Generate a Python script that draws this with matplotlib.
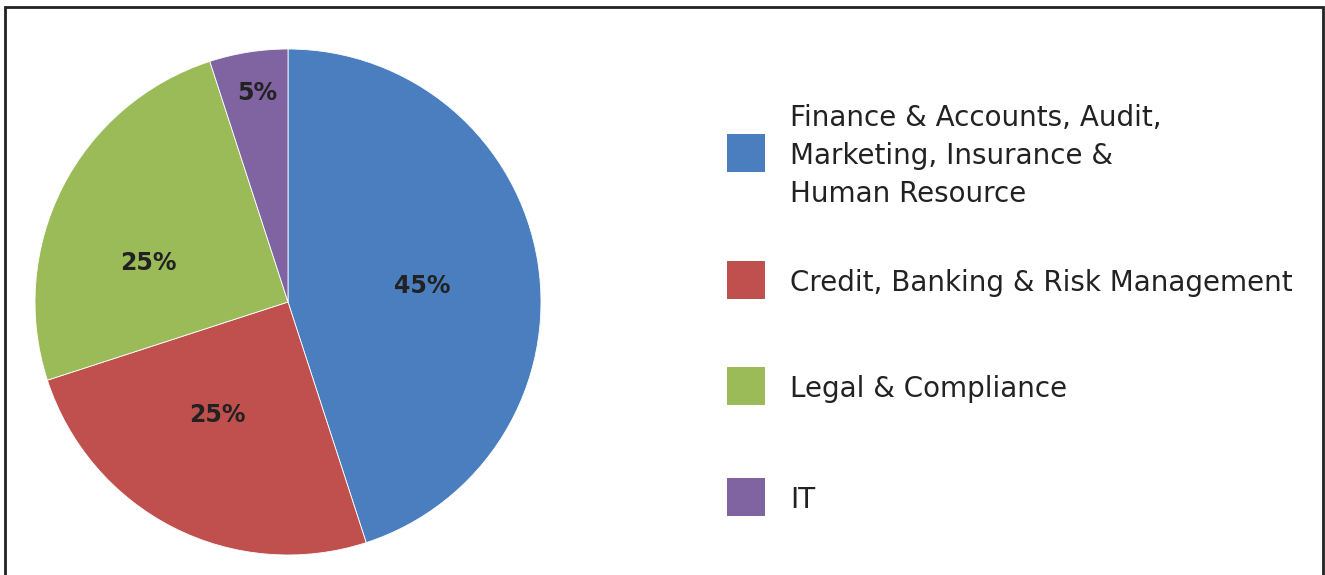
import matplotlib
matplotlib.use("Agg")
import matplotlib.pyplot as plt
from matplotlib.patches import Rectangle

# chart data
categories = ["Finance & Accounts, Audit,\nMarketing, Insurance &\nHuman Resource",
              "Credit, Banking & Risk Management",
              "Legal & Compliance",
              "IT"]
shares = [45, 25, 25, 5]
colors = ["#4a7ebf", "#c0504d", "#9bbb59", "#8064a2"]

W, H = 1325, 575
fig = plt.figure(figsize=(W / 100, H / 100), dpi=100)

# outer frame (bottom edge runs off the picture)
fig.patches.append(Rectangle((5 / W, -0.05), 1318 / W, 1.05 - 7 / H,
                             transform=fig.transFigure, fill=False,
                             edgecolor="#222222", linewidth=2))

ax = fig.add_axes([35 / W, 20 / H, 506 / W, 506 / H])
wedges, texts, autotexts = ax.pie(shares, colors=colors, startangle=90, counterclock=False,
                                  autopct="%d%%", radius=1,
                                  wedgeprops=dict(edgecolor="white", linewidth=0.6),
                                  textprops=dict(fontsize=17, fontweight="bold", color="#222222"))
# where the percentage labels sit (fraction of radius)
label_xy = [(0.53, 0.065), (-0.28, -0.445), (-0.55, 0.155), (-0.12, 0.825)]
for t, xy in zip(autotexts, label_xy):
    t.set_position(xy)
ax.set_xlim(-1, 1)
ax.set_ylim(-1, 1)
ax.set_aspect("equal")
ax.axis("off")

# legend drawn by hand, like the original
row_y = [153, 280, 386, 497]
for lab, c, y in zip(categories, colors, row_y):
    fig.patches.append(Rectangle((727 / W, 1 - (y + 19) / H), 38 / W, 38 / H,
                                 transform=fig.transFigure, facecolor=c, edgecolor="none"))
    fig.text(790 / W, 1 - (y + 3) / H, lab, fontsize=20, color="#222222",
             va="center", ha="left", linespacing=1.47)

fig.savefig("out.png", dpi=100)
